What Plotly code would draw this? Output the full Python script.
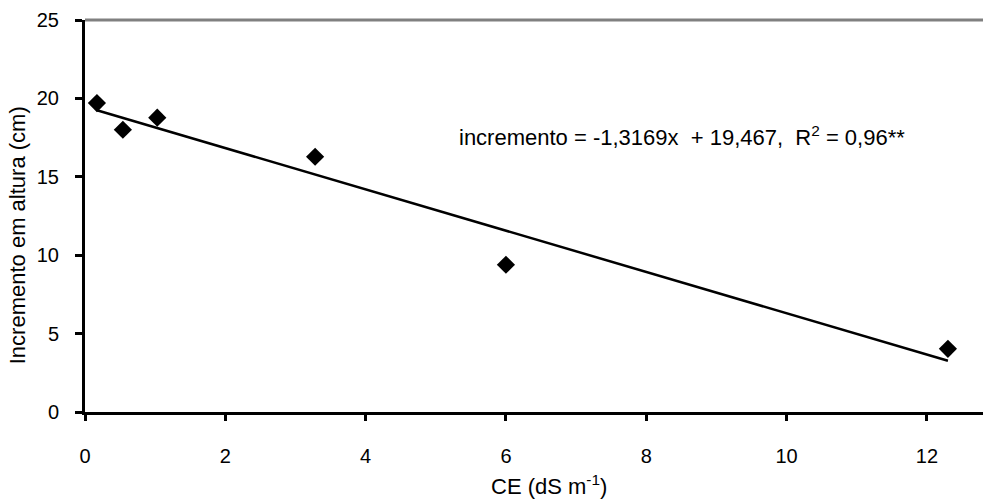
import plotly.graph_objects as go

ce = [0.17, 0.54, 1.03, 3.28, 6.0, 12.3]
incremento = [19.7, 18.0, 18.77, 16.28, 9.39, 4.03]
slope = -1.3169
intercept = 19.467
eq_text = "incremento = -1,3169x&nbsp; + 19,467,&nbsp; R<sup>2</sup> = 0,96**"
x_title = "CE (dS m<sup>-1</sup>)"
y_title = "Incremento em altura (cm)"
x_ticks = [0, 2, 4, 6, 8, 10, 12]
y_ticks = [0, 5, 10, 15, 20, 25]

fit_x = [min(ce), max(ce)]
fit_y = [intercept + slope * v for v in fit_x]

fam = "Liberation Sans, Arial, sans-serif"

fig = go.Figure()
fig.add_trace(go.Scatter(x=fit_x, y=fit_y, mode="lines",
                         line=dict(color="black", width=2.5), showlegend=False,
                         hoverinfo="skip"))
fig.add_trace(go.Scatter(x=ce, y=incremento, mode="markers",
                         marker=dict(symbol="diamond", size=14, color="black"),
                         showlegend=False))

# gray top border of the plot area
fig.add_shape(type="line", xref="paper", yref="paper", x0=0, x1=1, y0=1, y1=1,
              line=dict(color="#808080", width=3))

fig.add_annotation(x=0.414, y=0.703, xref="paper", yref="paper", text=eq_text,
                   showarrow=False, xanchor="left", yanchor="middle",
                   font=dict(family=fam, size=22, color="black"))
fig.add_annotation(x=0.517, y=-0.186, xref="paper", yref="paper", text=x_title,
                   showarrow=False, xanchor="center", yanchor="middle",
                   font=dict(family=fam, size=22, color="black"))
fig.add_annotation(x=-0.075, y=0.45, xref="paper", yref="paper", text=y_title,
                   showarrow=False, xanchor="center", yanchor="middle",
                   textangle=-90,
                   font=dict(family=fam, size=22, color="black"))

fig.update_layout(
    width=983, height=500,
    margin=dict(l=85, r=0, t=20, b=88),
    paper_bgcolor="white", plot_bgcolor="white",
    font=dict(family=fam, size=20, color="black"),
    xaxis=dict(range=[0, 12.8], tickvals=x_ticks, showgrid=False, zeroline=False,
               showline=True, linecolor="black", linewidth=3,
               ticks="outside", ticklen=6, tickwidth=3, tickcolor="black",
               ticklabelstandoff=18, tickfont=dict(size=20)),
    yaxis=dict(range=[0, 25], tickvals=y_ticks, showgrid=False, zeroline=False,
               showline=True, linecolor="black", linewidth=3,
               ticks="outside", ticklen=7, tickwidth=3, tickcolor="black",
               ticklabelstandoff=12, tickfont=dict(size=20)),
)

fig.write_html("out.html")
